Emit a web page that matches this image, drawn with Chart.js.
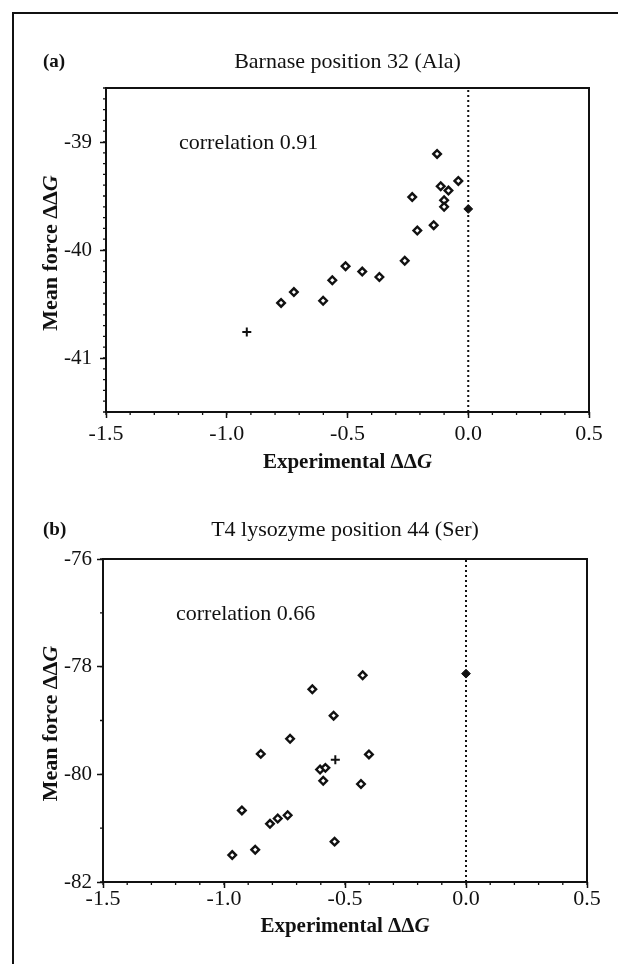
<!DOCTYPE html>
<html>
<head>
<meta charset="utf-8">
<script src="https://cdn.jsdelivr.net/npm/chart.js@4.4.1/dist/chart.umd.min.js"></script>
<style>
  body { margin: 0; background: #fff; }
  #page { position: relative; width: 618px; height: 964px; overflow: hidden; background: #fff; }
  #frame { position: absolute; left: 12px; top: 12px; width: 700px; height: 1000px;
           border-left: 2px solid #111; border-top: 2px solid #111; }
  .box { position: absolute; left: 0; width: 618px; height: 482px; }
</style>
</head>
<body>
<div id="page">
  <div id="frame"></div>
  <div class="box" style="top:0"><canvas id="chartA"></canvas></div>
  <div class="box" style="top:482px"><canvas id="chartB"></canvas></div>
</div>
<script>
// (a) Barnase position 32 (Ala)
const barnaseX = [-0.775, -0.722, -0.601, -0.563, -0.508, -0.439, -0.368, -0.263, -0.232,
                  -0.211, -0.143, -0.129, -0.114, -0.082, -0.100, -0.100, -0.041];
const barnaseY = [-40.49, -40.39, -40.47, -40.28, -40.15, -40.20, -40.25, -40.10, -39.51,
                  -39.82, -39.77, -39.11, -39.41, -39.45, -39.54, -39.60, -39.36];
const barnasePlusX = [-0.917];
const barnasePlusY = [-40.76];
const barnaseZeroX = [0.0];
const barnaseZeroY = [-39.62];
const barnaseYRange = [-41.5, -38.5];
const barnaseYTicks = [-41, -40, -39];

// (b) T4 lysozyme position 44 (Ser)
const lysoX = [-0.966, -0.871, -0.926, -0.848, -0.810, -0.778, -0.737, -0.727, -0.635,
               -0.603, -0.581, -0.590, -0.547, -0.543, -0.427, -0.401, -0.434];
const lysoY = [-81.50, -81.40, -80.67, -79.62, -80.92, -80.82, -80.76, -79.34, -78.42,
               -79.91, -79.88, -80.12, -78.91, -81.25, -78.16, -79.63, -80.18];
const lysoPlusX = [-0.540];
const lysoPlusY = [-79.73];
const lysoZeroX = [0.0];
const lysoZeroY = [-78.13];
const lysoYRange = [-82, -76];
const lysoYTicks = [-82, -80, -78, -76];

const xRange = [-1.5, 0.5];
const xTicks = [-1.5, -1.0, -0.5, 0.0, 0.5];

const serif = "'Liberation Serif', 'Times New Roman', serif";
Chart.defaults.font.family = serif;
Chart.defaults.color = '#111';

function pts(xs, ys) {
    return xs.map((x, i) => ({x: x, y: ys[i]}));
}

function steps(min, max, step) {
    let out = [];
    for (let v = min; v <= max + 1e-9; v += step) out.push(Math.round(v * 1000) / 1000);
    return out;
}

// text made of pieces with different fonts, centred on (cx, cy)
function mixed(ctx, parts, cx, cy) {
    let w = 0;
    parts.forEach(p => { ctx.font = p.font; w += ctx.measureText(p.text).width; });
    let x = cx - w / 2;
    ctx.textAlign = 'left';
    ctx.textBaseline = 'middle';
    parts.forEach(p => {
        ctx.font = p.font;
        ctx.fillText(p.text, x, cy);
        x += ctx.measureText(p.text).width;
    });
}

const decor = {
    id: 'decor',
    afterDraw(chart, args, opts) {
        const ctx = chart.ctx;
        const a = chart.chartArea;
        const xs = chart.scales.x, ys = chart.scales.y;
        ctx.save();
        ctx.strokeStyle = '#111';
        ctx.fillStyle = '#111';
        ctx.lineWidth = 2;
        ctx.strokeRect(a.left, a.top, a.right - a.left, a.bottom - a.top);

        // minor ticks
        ctx.lineWidth = 1.3;
        ctx.beginPath();
        opts.xMinor.forEach(v => {
            const px = xs.getPixelForValue(v);
            ctx.moveTo(px, a.bottom);
            ctx.lineTo(px, a.bottom + 3);
        });
        opts.yMinor.forEach(v => {
            const py = ys.getPixelForValue(v);
            ctx.moveTo(a.left, py);
            ctx.lineTo(a.left - 3, py);
        });
        ctx.stroke();

        const cx = (a.left + a.right) / 2;
        ctx.textBaseline = 'middle';
        ctx.textAlign = 'left';
        ctx.font = 'bold 19px ' + serif;
        ctx.fillText(opts.tag, 43, a.top - opts.titleGap);
        ctx.textAlign = 'center';
        ctx.font = '22px ' + serif;
        ctx.fillText(opts.title, cx, a.top - opts.titleGap);
        ctx.textAlign = 'left';
        ctx.fillText(opts.corr, a.left + 73, a.top + 55);

        mixed(ctx, [{text: 'Experimental \u0394\u0394', font: 'bold 21px ' + serif},
                    {text: 'G', font: 'italic bold 21px ' + serif}],
              cx, a.bottom + opts.xTitleGap);

        ctx.save();
        ctx.translate(51, (a.top + a.bottom) / 2 + 3);
        ctx.rotate(-Math.PI / 2);
        mixed(ctx, [{text: 'Mean force \u0394\u0394', font: 'bold 22px ' + serif},
                    {text: 'G', font: 'italic bold 22px ' + serif}], 0, 0);
        ctx.restore();
        ctx.restore();
    }
};

function makeChart(id, d) {
    const canvas = document.getElementById(id);
    canvas.width = 618;
    canvas.height = 482;
    return new Chart(canvas.getContext('2d'), {
        type: 'scatter',
        data: {
            datasets: [{
                data: pts(d.xs, d.ys),
                pointStyle: 'rectRot',
                pointRadius: 3.8,
                borderWidth: 2.4,
                borderColor: '#111',
                backgroundColor: '#fff'
            }, {
                data: pts(d.plusX, d.plusY),
                pointStyle: 'cross',
                pointRadius: 4.5,
                borderWidth: 2,
                borderColor: '#111'
            }, {
                data: pts(d.zeroX, d.zeroY),
                pointStyle: 'rectRot',
                pointRadius: 4.4,
                borderWidth: 1,
                borderColor: '#111',
                backgroundColor: '#111'
            }, {
                type: 'line',
                data: [{x: 0, y: d.yRange[0]}, {x: 0, y: d.yRange[1]}],
                borderColor: '#111',
                borderWidth: 2,
                borderDash: [2, 3],
                pointRadius: 0
            }]
        },
        options: {
            responsive: false,
            animation: false,
            layout: { padding: d.padding },
            plugins: {
                legend: { display: false },
                tooltip: { enabled: false },
                decor: d.decor
            },
            scales: {
                x: {
                    type: 'linear',
                    min: xRange[0],
                    max: xRange[1],
                    afterBuildTicks: s => { s.ticks = xTicks.map(v => ({value: v})); },
                    afterFit: s => { s.height = 40; },
                    border: { display: false },
                    grid: { drawOnChartArea: false, color: '#111', tickLength: 6, tickWidth: 1.5 },
                    ticks: {
                        padding: d.xPad,
                        maxRotation: 0,
                        font: { size: 22 },
                        callback: v => v.toFixed(1)
                    }
                },
                y: {
                    type: 'linear',
                    min: d.yRange[0],
                    max: d.yRange[1],
                    afterBuildTicks: s => { s.ticks = d.yTicks.map(v => ({value: v})); },
                    afterFit: s => { s.width = 50; },
                    border: { display: false },
                    grid: { drawOnChartArea: false, color: '#111', tickLength: 6, tickWidth: 1.5 },
                    ticks: {
                        padding: d.yPad,
                        font: { size: 21 },
                        callback: v => String(v)
                    }
                }
            }
        },
        plugins: [decor]
    });
}

makeChart('chartA', {
    xs: barnaseX, ys: barnaseY,
    plusX: barnasePlusX, plusY: barnasePlusY,
    zeroX: barnaseZeroX, zeroY: barnaseZeroY,
    yRange: barnaseYRange, yTicks: barnaseYTicks,
    padding: { left: 56, right: 29, top: 88, bottom: 30 },
    xPad: 3, yPad: 8,
    decor: {
        tag: '(a)', title: 'Barnase position 32 (Ala)', corr: 'correlation 0.91',
        titleGap: 26, xTitleGap: 51,
        xMinor: steps(xRange[0], xRange[1], 0.1),
        yMinor: steps(barnaseYRange[0], barnaseYRange[1], 0.1)
    }
});

makeChart('chartB', {
    xs: lysoX, ys: lysoY,
    plusX: lysoPlusX, plusY: lysoPlusY,
    zeroX: lysoZeroX, zeroY: lysoZeroY,
    yRange: lysoYRange, yTicks: lysoYTicks,
    padding: { left: 53, right: 31, top: 77, bottom: 42 },
    xPad: -2, yPad: 5,
    decor: {
        tag: '(b)', title: 'T4 lysozyme position 44 (Ser)', corr: 'correlation 0.66',
        titleGap: 29, xTitleGap: 45,
        xMinor: steps(xRange[0], xRange[1], 0.1),
        yMinor: steps(lysoYRange[0], lysoYRange[1], 1)
    }
});
</script>
</body>
</html>
